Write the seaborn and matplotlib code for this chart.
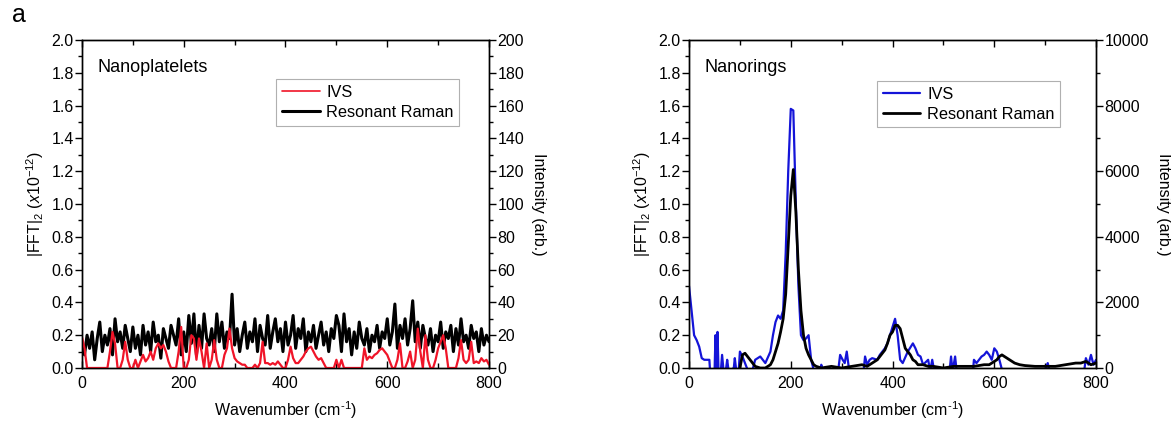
import numpy as np
import pandas as pd
import matplotlib
matplotlib.use('Agg')
import matplotlib.pyplot as plt
import seaborn as sns
from matplotlib.ticker import MultipleLocator

# --- Data ---
# Nanoplatelets, sampled every 5 cm-1 from 0 to 800
np_wavenumber = np.arange(0, 805, 5)

# IVS |FFT|^2 (x1e-12), left axis
np_ivs = [
    0.19, 0.12, 0.0, 0.0, 0.0, 0.0, 0.0, 0.0, 0.0, 0.0, 0.0, 0.1, 0.22, 0.15, 0.0, 0.0, 0.05, 0.16, 0.05, 0.0,
    0.0, 0.05, 0.0, 0.04, 0.08, 0.04, 0.06, 0.1, 0.05, 0.12, 0.15, 0.12, 0.14, 0.1, 0.04, 0.0, 0.0, 0.0, 0.1, 0.25,
    0.0, 0.0, 0.05, 0.2, 0.18, 0.05, 0.18, 0.1, 0.0, 0.15, 0.0, 0.05, 0.17, 0.05, 0.0, 0.0, 0.08, 0.12, 0.24, 0.12,
    0.06, 0.04, 0.03, 0.02, 0.02, 0.0, 0.0, 0.0, 0.02, 0.0, 0.03, 0.16, 0.03, 0.03, 0.02, 0.03, 0.02, 0.04, 0.02, 0.0,
    0.0, 0.05, 0.13, 0.06, 0.03, 0.03, 0.05, 0.07, 0.1, 0.12, 0.13, 0.1, 0.07, 0.05, 0.06, 0.03, 0.0, 0.0, 0.0, 0.0,
    0.05, 0.0, 0.05, 0.0, 0.0, 0.0, 0.0, 0.0, 0.0, 0.0, 0.0, 0.12, 0.05, 0.07, 0.06, 0.08, 0.09, 0.11, 0.12, 0.1,
    0.08, 0.04, 0.0, 0.0, 0.05, 0.15, 0.0, 0.0, 0.04, 0.1, 0.0, 0.05, 0.24, 0.1, 0.0, 0.2, 0.05, 0.0, 0.0, 0.05,
    0.12, 0.16, 0.2, 0.12, 0.0, 0.0, 0.0, 0.0, 0.06, 0.17, 0.05, 0.03, 0.05, 0.16, 0.03, 0.04, 0.03, 0.06, 0.04, 0.05, 0.02,
]

# Resonant Raman intensity (arb.), right axis
np_raman = [
    15, 8, 20, 12, 22, 5, 18, 28, 10, 20, 14, 24, 8, 30, 16, 22, 12, 26, 18, 10,
    25, 12, 20, 8, 26, 14, 22, 10, 28, 16, 20, 6, 24, 18, 12, 26, 20, 14, 30, 8,
    22, 10, 32, 15, 33, 8, 26, 12, 33, 18, 14, 24, 10, 33, 16, 28, 12, 22, 18, 45,
    14, 24, 10, 20, 28, 12, 22, 16, 30, 10, 26, 18, 14, 32, 12, 22, 30, 16, 24, 10,
    28, 14, 20, 32, 12, 24, 18, 30, 10, 22, 16, 26, 12, 20, 28, 14, 22, 10, 24, 18,
    32, 26, 10, 33, 16, 24, 8, 22, 12, 28, 18, 14, 24, 10, 20, 16, 26, 12, 22, 18,
    30, 14, 22, 39, 12, 26, 18, 30, 14, 24, 41, 16, 28, 12, 26, 18, 14, 24, 10, 20,
    16, 28, 12, 22, 18, 26, 10, 24, 14, 30, 16, 20, 12, 26, 18, 22, 10, 24, 14, 20, 16,
]

# Nanorings IVS
nr_ivs_x = [0, 5, 10, 15, 20, 25, 30, 40, 42, 50, 52, 54, 56, 58, 63, 65, 68, 73, 75, 78,
            88, 90, 93, 98, 100, 105, 110, 115, 125, 130, 140, 145, 150, 160, 165, 170, 175, 180, 185, 190,
            195, 200, 205, 210, 215, 220, 225, 230, 235, 240, 245, 258, 260, 263, 293, 297, 302, 306, 310, 315,
            343, 346, 350, 355, 360, 370, 375, 380, 385, 390, 395, 400, 405, 410, 415, 420, 430, 440, 445, 450,
            455, 460, 470, 474, 478, 482, 512, 515, 518, 523, 526, 558, 560, 565, 570, 575, 580, 585, 590, 595,
            600, 605, 610, 615, 700, 705, 708, 777, 780, 785, 790, 795, 800]
nr_ivs_y = [0.50, 0.35, 0.2, 0.17, 0.13, 0.06, 0.05, 0.05, -0.05, -0.05, 0.2, -0.02, 0.22, -0.02, 0.0, 0.08, -0.02, 0.0, 0.05, -0.02,
            0.0, 0.06, -0.02, 0.0, 0.1, 0.07, 0.03, -0.01, -0.01, 0.05, 0.07, 0.05, 0.03, 0.1, 0.2, 0.28, 0.32, 0.3, 0.35, 0.7,
            1.2, 1.58, 1.57, 1.0, 0.5, 0.2, 0.17, 0.18, 0.2, 0.05, -0.01, -0.01, 0.02, -0.02, -0.02, 0.08, 0.05, 0.03, 0.1, -0.02,
            -0.02, 0.07, 0.02, 0.05, 0.06, 0.05, 0.08, 0.1, 0.12, 0.15, 0.2, 0.25, 0.3, 0.2, 0.05, 0.03, 0.1, 0.15, 0.12, 0.08,
            0.07, 0.02, 0.05, -0.02, 0.05, -0.02, -0.02, 0.07, -0.02, 0.07, -0.02, -0.02, 0.05, 0.03, 0.05, 0.07, 0.08, 0.1, 0.08, 0.05,
            0.12, 0.1, 0.05, -0.01, -0.01, 0.03, -0.01, -0.01, 0.06, 0.02, 0.08, 0.02, 0.05]

# Nanorings Resonant Raman
nr_raman_x = [100, 105, 110, 115, 120, 125, 130, 140, 150, 155, 160, 165, 170, 175, 180, 185, 190, 195, 200, 205,
              210, 215, 220, 225, 230, 235, 240, 245, 250, 260, 280, 300, 320, 340, 350, 360, 370, 380, 385, 390,
              395, 400, 405, 410, 415, 420, 425, 430, 435, 440, 445, 450, 460, 470, 480, 500, 520, 540, 560, 580,
              590, 600, 605, 610, 615, 620, 625, 630, 640, 650, 660, 680, 700, 720, 740, 760, 770, 780, 790, 800]
nr_raman_y = [0, 400, 450, 350, 250, 150, 50, 0, 0, 50, 100, 250, 500, 750, 1100, 1500, 2250, 3750, 5250, 6050,
              4750, 3000, 1750, 1000, 600, 400, 250, 100, 50, 0, 50, 0, 50, 100, 50, 150, 250, 450, 550, 750,
              1000, 1100, 1300, 1300, 1200, 900, 600, 500, 400, 250, 200, 100, 100, 50, 50, 0, 50, 50, 50, 100,
              100, 200, 250, 350, 400, 350, 300, 250, 150, 100, 75, 50, 50, 50, 100, 150, 150, 200, 100, 150]

# --- Style ---
sns.set_theme(style='ticks')
plt.rcParams['font.family'] = ['Liberation Sans', 'DejaVu Sans']
plt.rcParams['mathtext.fontset'] = 'custom'
plt.rcParams['mathtext.rm'] = 'Liberation Sans'
plt.rcParams['mathtext.it'] = 'Liberation Sans:italic'
plt.rcParams['axes.edgecolor'] = 'black'
plt.rcParams['axes.linewidth'] = 1.0
plt.rcParams['xtick.color'] = 'black'
plt.rcParams['ytick.color'] = 'black'
plt.rcParams['text.color'] = 'black'
plt.rcParams['axes.labelcolor'] = 'black'

FS = 11.5
red = '#f01428'
blue = '#1414d8'

fig = plt.figure(figsize=(11.71, 4.29), dpi=100)
ax_l = fig.add_axes([0.070, 0.1422, 0.3476, 0.7646])
ax_r = fig.add_axes([0.5884, 0.1422, 0.3476, 0.7646])


def style_axes(ax, ax2, ymax2, major2, minor2):
    ax.set_xlim(0, 800)
    ax.set_ylim(0, 2.0)
    ax2.set_ylim(0, ymax2)
    ax.xaxis.set_major_locator(MultipleLocator(200))
    ax.xaxis.set_minor_locator(MultipleLocator(100))
    ax.yaxis.set_major_locator(MultipleLocator(0.2))
    ax.yaxis.set_minor_locator(MultipleLocator(0.1))
    ax.yaxis.set_major_formatter(matplotlib.ticker.FormatStrFormatter('%.1f'))
    ax2.yaxis.set_major_locator(MultipleLocator(major2))
    ax2.yaxis.set_minor_locator(MultipleLocator(minor2))
    ax.tick_params(axis='x', which='both', direction='in', top=True, labelsize=FS, pad=6)
    ax.tick_params(axis='x', which='major', length=5, width=1)
    ax.tick_params(axis='x', which='minor', length=3.5, width=1)
    ax.tick_params(axis='y', which='both', direction='out', labelsize=FS, pad=1)
    ax.tick_params(axis='y', which='major', length=5, width=1)
    ax.tick_params(axis='y', which='minor', length=3, width=1)
    ax2.tick_params(axis='y', which='both', direction='out', labelsize=FS, pad=1)
    ax2.tick_params(axis='y', which='major', length=5, width=1)
    ax2.tick_params(axis='y', which='minor', length=3, width=1)
    ax.set_xlabel(r'Wavenumber (cm$^{\text{-1}}$)', fontsize=FS, labelpad=6)
    ax.set_ylabel(r'|FFT|$_{2}$ ($\mathit{x10^{-12}}$)', fontsize=FS, labelpad=4)
    ax2.set_ylabel('Intensity (arb.)', fontsize=FS, rotation=270, labelpad=16)
    for sp in list(ax.spines.values()) + list(ax2.spines.values()):
        sp.set_visible(True)
        sp.set_color('black')
        sp.set_linewidth(1.0)


def add_legend(ax, handles, anchor):
    leg = ax.legend(handles, ['IVS', 'Resonant Raman'], loc='upper left', bbox_to_anchor=anchor,
                    fontsize=11.8, frameon=True, fancybox=False, edgecolor='#b0b0b0', framealpha=1,
                    handlelength=2.3, labelspacing=0.3, borderpad=0.35, handletextpad=0.4, borderaxespad=0)
    leg.get_frame().set_linewidth(0.8)
    return leg


# --- Left: Nanoplatelets ---
ax_l2 = ax_l.twinx()
sns.lineplot(x=np_wavenumber, y=np_raman, ax=ax_l2, color='black', lw=2.2, legend=False)
sns.lineplot(x=np_wavenumber, y=np_ivs, ax=ax_l, color=red, lw=1.6, legend=False)
ax_l.set_zorder(ax_l2.get_zorder() + 1)
ax_l.patch.set_visible(False)
style_axes(ax_l, ax_l2, 200, 20, 10)
ax_l.text(0.037, 0.915, 'Nanoplatelets', transform=ax_l.transAxes, fontsize=13, va='center', ha='left')
leg = add_legend(ax_l, [ax_l.lines[0], ax_l2.lines[0]], (0.477, 0.88))
leg.legend_handles[0].set_linewidth(1.2)

# --- Right: Nanorings ---
ax_r2 = ax_r.twinx()
sns.lineplot(x=nr_ivs_x, y=nr_ivs_y, ax=ax_r, color=blue, lw=1.6, legend=False)
sns.lineplot(x=nr_raman_x, y=nr_raman_y, ax=ax_r2, color='black', lw=2.0, legend=False)
style_axes(ax_r, ax_r2, 10000, 2000, 1000)
ax_r.text(0.037, 0.915, 'Nanorings', transform=ax_r.transAxes, fontsize=13, va='center', ha='left')
add_legend(ax_r2, [ax_r.lines[0], ax_r2.lines[0]], (0.462, 0.875))

fig.text(0.01, 0.965, 'a', fontsize=18, va='center', ha='left')

fig.savefig('out.png', dpi=100)
